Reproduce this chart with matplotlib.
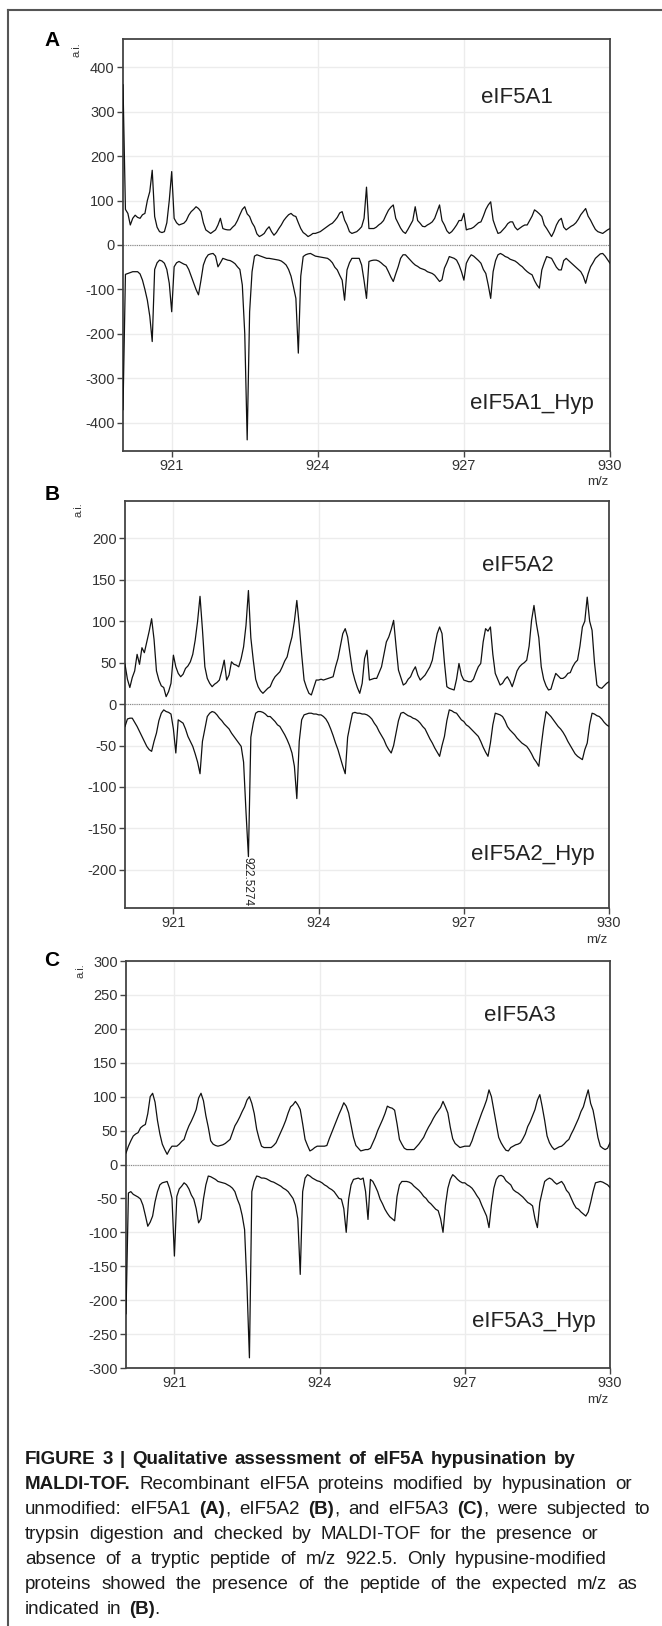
import numpy as np
import matplotlib
matplotlib.use("Agg")
import matplotlib.pyplot as plt
from matplotlib.lines import Line2D

plt.rcParams["font.family"] = ["Liberation Sans", "DejaVu Sans"]
plt.rcParams["axes.unicode_minus"] = False

W, H = 662, 1626

# m/z sampling of the spectra (0.05 steps, 920 -> 930)
MZ = np.round(920 + 0.05 * np.arange(201), 2)

# intensities, one row per m/z unit
EIF5A1 = [
    360, 80, 71, 45, 60, 67, 62, 60, 68, 71, 100, 120, 168, 64, 40, 30, 28, 30, 50, 100,
    165, 60, 50, 45, 47, 49, 55, 67, 75, 80, 86, 82, 75, 50, 34, 30, 26, 30, 34, 45,
    60, 37, 35, 34, 34, 40, 45, 55, 68, 80, 86, 70, 64, 50, 41, 25, 19, 22, 26, 35,
    41, 30, 22, 28, 37, 45, 55, 62, 68, 71, 66, 64, 50, 37, 28, 24, 19, 22, 26, 26,
    28, 30, 34, 38, 42, 46, 49, 55, 62, 72, 75, 56, 45, 30, 26, 28, 30, 35, 41, 60,
    130, 37, 37, 37, 40, 45, 49, 55, 67, 78, 85, 90, 60, 49, 38, 30, 26, 35, 45, 55,
    86, 55, 49, 42, 41, 45, 48, 52, 60, 75, 90, 55, 45, 32, 26, 30, 37, 45, 55, 55,
    71, 34, 36, 37, 40, 45, 50, 52, 65, 80, 90, 97, 56, 40, 26, 28, 34, 40, 48, 52,
    52, 40, 34, 38, 42, 45, 45, 55, 65, 79, 75, 70, 64, 45, 37, 28, 19, 30, 45, 55,
    60, 40, 34, 38, 42, 45, 50, 58, 68, 75, 82, 65, 56, 45, 35, 30, 28, 26, 30, 34,
    37,
]
EIF5A1_HYP = [
    -370, -66, -64, -62, -60, -60, -60, -65, -79, -100, -124, -160, -217, -55, -40, -34, -36, -41, -55, -86,
    -150, -49, -40, -37, -40, -43, -45, -55, -70, -85, -100, -112, -80, -45, -30, -22, -20, -19, -25, -49,
    -40, -30, -32, -34, -35, -38, -42, -49, -55, -90, -199, -438, -150, -60, -25, -22, -24, -26, -28, -30,
    -30, -31, -32, -33, -34, -36, -40, -45, -55, -70, -94, -120, -243, -70, -26, -22, -20, -19, -22, -25,
    -26, -27, -28, -29, -30, -34, -40, -50, -56, -68, -79, -124, -56, -40, -30, -30, -30, -30, -45, -80,
    -120, -37, -35, -34, -34, -36, -40, -45, -49, -60, -72, -82, -65, -49, -30, -22, -22, -28, -34, -40,
    -45, -48, -52, -54, -56, -60, -62, -64, -68, -75, -82, -78, -52, -40, -26, -28, -30, -34, -45, -60,
    -79, -41, -30, -22, -25, -30, -35, -41, -55, -64, -90, -120, -60, -35, -22, -19, -22, -26, -28, -32,
    -34, -36, -40, -45, -49, -55, -60, -64, -67, -80, -90, -97, -56, -40, -26, -28, -30, -40, -50, -56,
    -56, -35, -30, -35, -40, -45, -50, -55, -60, -70, -86, -65, -49, -40, -30, -25, -20, -19, -25, -33,
    -41,
]
EIF5A2 = [
    48, 30, 20, 32, 40, 60, 48, 68, 62, 75, 88, 103, 78, 40, 29, 22, 20, 9, 15, 25,
    59, 45, 37, 33, 36, 43, 46, 51, 60, 77, 100, 130, 90, 45, 31, 25, 21, 24, 26, 29,
    40, 53, 29, 35, 51, 48, 47, 45, 55, 69, 95, 137, 80, 53, 30, 21, 16, 13, 16, 19,
    21, 28, 33, 36, 39, 45, 52, 57, 70, 81, 100, 125, 95, 60, 29, 20, 13, 11, 20, 29,
    29, 30, 29, 30, 31, 32, 33, 45, 55, 70, 85, 91, 81, 60, 40, 29, 20, 13, 25, 55,
    65, 29, 30, 31, 31, 38, 45, 60, 75, 81, 90, 101, 70, 41, 32, 23, 25, 30, 33, 40,
    45, 35, 29, 32, 35, 40, 45, 53, 70, 85, 93, 85, 50, 21, 19, 18, 17, 30, 49, 35,
    29, 28, 27, 27, 30, 38, 45, 49, 75, 91, 88, 93, 60, 37, 30, 23, 25, 30, 33, 28,
    21, 30, 40, 45, 48, 50, 53, 70, 101, 119, 97, 80, 45, 30, 22, 17, 18, 28, 37, 34,
    31, 31, 33, 37, 38, 45, 50, 53, 70, 93, 100, 129, 100, 89, 50, 23, 20, 19, 22, 25,
    27,
]
EIF5A2_HYP = [
    -27, -18, -17, -17, -22, -27, -33, -39, -45, -51, -55, -57, -45, -35, -20, -11, -7, -9, -10, -12,
    -30, -59, -19, -21, -23, -30, -39, -45, -51, -60, -70, -84, -45, -30, -15, -11, -9, -10, -13, -17,
    -20, -24, -27, -30, -35, -39, -43, -47, -51, -70, -130, -184, -40, -23, -11, -9, -9, -10, -12, -15,
    -15, -18, -21, -25, -27, -32, -37, -43, -50, -59, -75, -114, -45, -19, -13, -12, -11, -11, -12, -12,
    -13, -13, -15, -18, -23, -30, -38, -47, -55, -65, -75, -84, -40, -25, -11, -10, -11, -11, -12, -12,
    -13, -15, -18, -23, -27, -33, -38, -43, -50, -55, -59, -50, -35, -20, -11, -10, -12, -14, -15, -17,
    -18, -20, -23, -27, -30, -36, -42, -47, -53, -58, -63, -50, -39, -20, -7, -8, -10, -11, -15, -19,
    -21, -25, -27, -30, -33, -36, -39, -45, -52, -58, -63, -47, -25, -11, -12, -13, -15, -20, -27, -31,
    -34, -37, -41, -44, -47, -49, -51, -55, -60, -66, -70, -75, -50, -27, -9, -12, -15, -19, -23, -27,
    -30, -34, -39, -45, -50, -55, -60, -63, -65, -67, -55, -47, -25, -11, -12, -14, -15, -18, -22, -25,
    -27,
]
EIF5A3 = [
    17, 27, 35, 42, 45, 47, 54, 57, 59, 75, 100, 105, 92, 65, 45, 30, 22, 15, 22, 27,
    27, 27, 30, 34, 37, 48, 57, 64, 72, 81, 98, 105, 94, 72, 55, 35, 30, 28, 27, 28,
    29, 31, 34, 37, 47, 57, 63, 70, 78, 85, 95, 100, 90, 75, 52, 38, 27, 25, 25, 25,
    25, 28, 32, 40, 48, 56, 65, 76, 85, 88, 93, 88, 81, 60, 37, 28, 20, 22, 25, 27,
    27, 27, 27, 28, 38, 47, 56, 65, 74, 82, 91, 86, 76, 58, 40, 28, 24, 20, 21, 22,
    22, 24, 32, 40, 50, 58, 66, 75, 86, 84, 83, 80, 60, 37, 30, 24, 22, 22, 22, 22,
    26, 30, 35, 40, 48, 55, 61, 68, 74, 79, 84, 93, 85, 76, 55, 38, 31, 28, 25, 26,
    27, 27, 27, 35, 46, 56, 66, 76, 85, 95, 110, 100, 80, 60, 40, 32, 26, 21, 20, 25,
    27, 29, 30, 32, 38, 45, 56, 63, 72, 81, 95, 103, 85, 65, 42, 32, 26, 22, 24, 26,
    27, 30, 34, 37, 45, 52, 60, 68, 78, 85, 98, 110, 90, 80, 61, 40, 27, 24, 22, 24,
    32,
]
EIF5A3_HYP = [
    -220, -42, -40, -44, -46, -48, -51, -60, -75, -91, -85, -76, -55, -40, -30, -27, -26, -25, -35, -50,
    -135, -47, -36, -32, -27, -30, -36, -45, -51, -65, -86, -80, -51, -30, -17, -18, -20, -22, -25, -26,
    -27, -28, -30, -32, -35, -40, -51, -60, -75, -96, -180, -285, -40, -25, -17, -18, -20, -20, -21, -23,
    -25, -26, -28, -30, -32, -35, -37, -40, -45, -50, -60, -80, -162, -40, -20, -15, -17, -20, -22, -24,
    -25, -27, -30, -32, -35, -37, -40, -45, -50, -51, -65, -100, -51, -30, -22, -21, -20, -22, -20, -40,
    -81, -22, -25, -32, -40, -51, -58, -66, -72, -77, -80, -83, -47, -30, -25, -25, -25, -26, -28, -32,
    -35, -38, -42, -47, -50, -55, -58, -62, -66, -68, -80, -100, -60, -35, -22, -15, -18, -22, -25, -27,
    -27, -30, -32, -35, -40, -46, -51, -60, -68, -76, -93, -60, -35, -22, -17, -16, -18, -24, -27, -30,
    -37, -40, -42, -45, -48, -52, -56, -58, -61, -80, -93, -56, -40, -25, -22, -20, -22, -26, -29, -27,
    -25, -30, -38, -42, -50, -58, -64, -66, -70, -73, -76, -70, -56, -40, -27, -26, -25, -26, -28, -30,
    -34,
]

XTICKS = [921, 924, 927, 930]
PEAK_MZ = 922.527
PEAK_LABEL = "922.5274"

CAPTION = [
    "*FIGURE 3 | Qualitative assessment of eIF5A hypusination by*",
    "*MALDI-TOF.* Recombinant eIF5A proteins modified by hypusination or",
    "unmodified: eIF5A1 *(A)*, eIF5A2 *(B)*, and eIF5A3 *(C)*, were subjected to",
    "trypsin digestion and checked by MALDI-TOF for the presence or",
    "absence of a tryptic peptide of m/z 922.5. Only hypusine-modified",
    "proteins showed the presence of the peptide of the expected m/z as",
    "indicated in *(B)*.",
]
CAPTION_RIGHT = [576, 632, 650, 598, 607, 637, 160]


def fx(x):
    return x / W


def fy(y):
    return 1 - y / H


fig = plt.figure(figsize=(W / 100, H / 100), dpi=100)

# outer frame (left + top only, the rest is cropped)
fig.add_artist(Line2D([fx(8), fx(8)], [0, fy(10)], transform=fig.transFigure, color="#555555", lw=1.5))
fig.add_artist(Line2D([fx(8), 1], [fy(10), fy(10)], transform=fig.transFigure, color="#555555", lw=1.5))

panels = [
    # letter, box (l, t, r, b), ylim, yticks, top, bottom, labels, label positions, letter pos, a.i. pos, m/z pos
    ("A", (123, 39, 610, 451), (-463, 463), range(-400, 401, 100), EIF5A1, EIF5A1_HYP,
     ("eIF5A1", "eIF5A1_Hyp"), ((517, 103), (532, 409)), (52, 40), (76, 50), (598, 482)),
    ("B", (125, 501, 609, 908), (-246, 245), range(-200, 201, 50), EIF5A2, EIF5A2_HYP,
     ("eIF5A2", "eIF5A2_Hyp"), ((518, 571), (533, 860)), (52, 495), (79, 510), (597, 940)),
    ("C", (126, 961, 610, 1368), (-300, 300), range(-300, 301, 50), EIF5A3, EIF5A3_HYP,
     ("eIF5A3", "eIF5A3_Hyp"), ((520, 1021), (534, 1327)), (52, 960), (80, 971), (598, 1400)),
]

for letter, box, ylim, yticks, top, bottom, labels, lpos, letpos, aipos, mzpos in panels:
    l, t, r, b = box
    ax = fig.add_axes([fx(l), fy(b), (r - l) / W, (b - t) / H])
    ax.set_xlim(920, 930)
    ax.set_ylim(*ylim)
    ax.set_xticks(XTICKS)
    ax.set_yticks(list(yticks))
    ax.grid(True, color="#ececec", lw=1.0)
    ax.set_axisbelow(True)
    for s in ax.spines.values():
        s.set_color("#444444")
        s.set_linewidth(1.3)
    ax.tick_params(direction="out", length=4, width=1, color="#444444",
                   labelsize=10.5, labelcolor="#333333", pad=2)
    ax.axhline(0, color="#888888", lw=0.8, ls=(0, (1, 1)), zorder=1)
    ax.plot(MZ, top, color="#111111", lw=0.9, zorder=3)
    ax.plot(MZ, bottom, color="#111111", lw=0.9, zorder=3)

    for text, (x, y) in zip(labels, lpos):
        fig.text(fx(x), fy(y), text, fontsize=16, color="#222222", ha="center", va="baseline")
    fig.text(fx(letpos[0]), fy(letpos[1]), letter, fontsize=15, fontweight="bold",
             ha="center", va="center")
    fig.text(fx(aipos[0]), fy(aipos[1]), "a.i.", fontsize=8, color="#333333",
             rotation=90, ha="center", va="center")
    fig.text(fx(mzpos[0]), fy(mzpos[1]), "m/z", fontsize=9.5, color="#333333",
             ha="center", va="center")

    if letter == "B":
        ax.text(PEAK_MZ, min(bottom), PEAK_LABEL, rotation=270, fontsize=8.5,
                ha="center", va="top", color="#222222", zorder=4)

# caption, with *...* marking bold runs
renderer = fig.canvas.get_renderer()
CAP_LEFT = 25
baseline = 1464
for line, right in zip(CAPTION, CAPTION_RIGHT):
    bold = False
    words = []
    for word in line.split(" "):
        pieces = []
        for i, seg in enumerate(word.split("*")):
            if i > 0:
                bold = not bold
            if seg:
                t = fig.text(0, fy(baseline), seg, fontsize=13.5, color="#1a1a1a",
                             fontweight="bold" if bold else "normal", ha="left", va="baseline")
                pieces.append((t, t.get_window_extent(renderer).width))
        words.append(pieces)
    total = sum(w for p in words for _, w in p)
    gap = (right - CAP_LEFT - total) / max(len(words) - 1, 1)
    x = CAP_LEFT
    for pieces in words:
        for t, w in pieces:
            t.set_x(fx(x))
            x += w
        x += gap
    baseline += 25

fig.savefig("out.png", dpi=100)
